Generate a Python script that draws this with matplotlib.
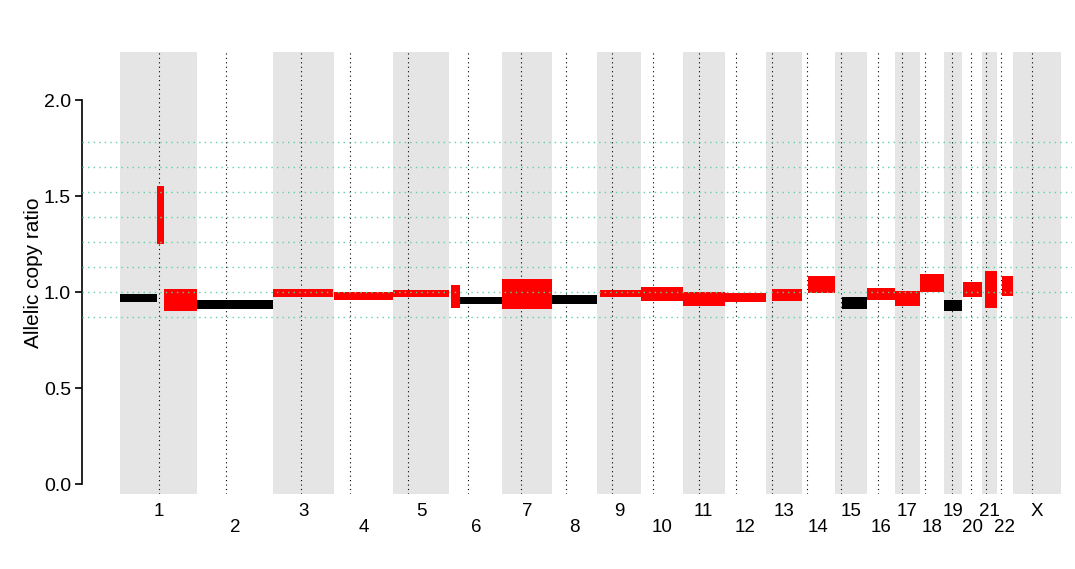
import numpy as np
import matplotlib
matplotlib.use("Agg")
import matplotlib.pyplot as plt
import matplotlib.transforms as mtransforms

plt.rcParams["font.family"] = ["Liberation Sans", "DejaVu Sans"]

# hg19 chromosome sizes and centromere midpoints (Mb)
CHROMS = [str(i) for i in range(1, 23)] + ["X"]
CHROM_LEN = [249.25, 243.20, 198.02, 191.15, 180.92, 171.12, 159.14, 146.36,
             141.21, 135.53, 135.01, 133.85, 115.17, 107.35, 102.53, 90.35,
             81.20, 78.08, 59.13, 63.03, 48.13, 51.30, 155.27]
CENTROMERE = [125.0, 93.3, 91.0, 50.4, 48.4, 61.0, 59.9, 45.6, 49.0, 40.2,
              53.7, 35.8, 17.9, 17.6, 19.0, 36.6, 24.0, 17.2, 26.5, 27.5,
              13.2, 14.7, 60.6]

# allelic copy-ratio segments: chromosome, start, end (Mb), lower, upper
SEG_CHROM = ["1", "1", "1", "2", "3", "4", "5", "6", "6", "7", "8", "9",
             "10", "11", "12", "13", "14", "15", "16", "17", "18", "19",
             "20", "21", "22"]
SEG_START = [0.8, 120.5, 143.5, 0.1, 0.1, 0.3, 0.3, 5.0, 34.0, 0.5, 0.5, 9.0,
             0.5, 0.5, 0.5, 19.5, 20.5, 22.0, 0.5, 0.5, 0.2, 0.2, 1.5, 10.0, 17.0]
SEG_END = [119.5, 142.5, 249.0, 243.0, 196.0, 191.0, 180.8, 34.0, 171.0,
           159.0, 146.0, 141.0, 135.5, 135.0, 133.8, 115.0, 107.0, 102.5,
           90.0, 81.0, 77.0, 58.5, 63.0, 48.0, 51.0]
SEG_LOW = [0.948, 1.251, 0.901, 0.911, 0.974, 0.958, 0.974, 0.917, 0.938,
           0.911, 0.938, 0.974, 0.953, 0.927, 0.948, 0.953, 0.995, 0.911,
           0.958, 0.927, 1.000, 0.901, 0.974, 0.917, 0.979]
SEG_HIGH = [0.990, 1.552, 1.016, 0.958, 1.016, 1.000, 1.010, 1.036, 0.974,
            1.068, 0.984, 1.010, 1.026, 1.000, 0.995, 1.016, 1.083, 0.974,
            1.021, 1.005, 1.094, 0.958, 1.052, 1.109, 1.083]
SEG_GAIN = [False, True, True, False, True, True, True, True, False, True,
            False, True, True, True, True, True, True, False, True, True,
            True, False, True, True, True]

# expected allelic copy-ratio levels
LEVELS = [0.87, 1.00, 1.13, 1.26, 1.39, 1.52, 1.65, 1.78]

offset = np.concatenate([[0], np.cumsum(CHROM_LEN)[:-1]])
chrom_offset = dict(zip(CHROMS, offset))

fig = plt.figure(figsize=(10.75, 5.69), dpi=100)
ax = fig.add_axes([82 / 1075, 75 / 569, 990 / 1075, 442 / 569])
ax.set_xlim(-122.6, 3072)
ax.set_ylim(-0.052, 2.25)

# shade odd chromosomes, dotted line at each centromere
for i, (c, ln, cen) in enumerate(zip(CHROMS, CHROM_LEN, CENTROMERE)):
    if i % 2 == 0:
        ax.axvspan(offset[i], offset[i] + ln, color="#e5e5e5", lw=0, zorder=0)
    ax.axvline(offset[i] + cen, color="black", lw=0.8, ls=(0, (1, 3)), zorder=1)

for c, s, e, lo, hi, gain in zip(SEG_CHROM, SEG_START, SEG_END, SEG_LOW,
                                 SEG_HIGH, SEG_GAIN):
    x0 = chrom_offset[c] + s
    ax.add_patch(plt.Rectangle((x0, lo), e - s, hi - lo, lw=0,
                               color="red" if gain else "black", zorder=2))

for lvl in LEVELS:
    ax.axhline(lvl, color="#5fd3a0", lw=1.0, ls=(0, (1, 3)), zorder=3)

# chromosome labels alternate between two rows
trans = mtransforms.blended_transform_factory(ax.transData, fig.transFigure)
for i, c in enumerate(CHROMS):
    y = 1 - 512 / 569 if i % 2 == 0 else 1 - 527 / 569
    ax.text(offset[i] + CHROM_LEN[i] / 2, y, c, transform=trans,
            ha="center", va="center", fontsize=13.5)

ax.set_xticks([])
for side in ["top", "right", "bottom"]:
    ax.spines[side].set_visible(False)
ax.spines["left"].set_bounds(0, 2)
ax.spines["left"].set_linewidth(1.2)
ax.set_yticks([0, 0.5, 1.0, 1.5, 2.0])
ax.set_yticklabels(["0.0", "0.5", "1.0", "1.5", "2.0"])
ax.tick_params(axis="y", length=5, width=1.2, pad=3, labelsize=14)
ax.set_ylabel("Allelic copy ratio", fontsize=15)
ax.yaxis.set_label_coords(-(82 - 43) / 990, 0.5)

fig.savefig("out.png", dpi=100)
